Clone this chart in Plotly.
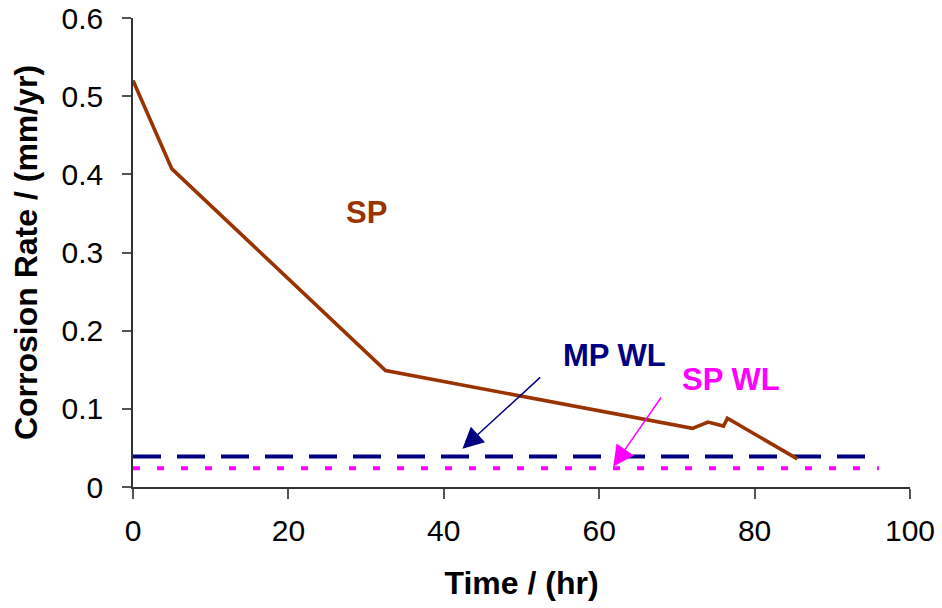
import plotly.graph_objects as go

# Data
sp_time = [0, 5, 32.5, 72, 74, 76, 76.5, 85.5]
sp_rate = [0.52, 0.407, 0.149, 0.075, 0.083, 0.078, 0.088, 0.036]
wl_time = [0, 96]
mp_wl_rate = [0.039, 0.039]
sp_wl_rate = [0.024, 0.024]

x_ticks = [0, 20, 40, 60, 80, 100]
y_ticks = [0, 0.1, 0.2, 0.3, 0.4, 0.5, 0.6]
y_tick_labels = ["0", "0.1", "0.2", "0.3", "0.4", "0.5", "0.6"]

BROWN = "#993300"
NAVY = "#000080"
MAGENTA = "#FF00FF"
FONT = "Liberation Sans, Arial, sans-serif"

fig = go.Figure()
fig.add_trace(go.Scatter(x=wl_time, y=mp_wl_rate, mode="lines",
                         line=dict(color=NAVY, width=4, dash="28px,16px"), name="MP WL"))
fig.add_trace(go.Scatter(x=wl_time, y=sp_wl_rate, mode="lines",
                         line=dict(color=MAGENTA, width=4, dash="7px,17px"), name="SP WL"))
fig.add_trace(go.Scatter(x=sp_time, y=sp_rate, mode="lines",
                         line=dict(color=BROWN, width=3.6), name="SP"))

fig.add_annotation(x=30.0, y=0.351, text="<b>SP</b>", showarrow=False,
                   font=dict(family=FONT, size=31, color=BROWN))
fig.add_annotation(x=62.0, y=0.168, text="<b>MP WL</b>", showarrow=False,
                   font=dict(family=FONT, size=31, color=NAVY))
fig.add_annotation(x=76.9, y=0.137, text="<b>SP WL</b>", showarrow=False,
                   font=dict(family=FONT, size=31, color=MAGENTA))

fig.add_annotation(x=42.4, y=0.049, ax=52.6, ay=0.142, axref="x", ayref="y",
                   xref="x", yref="y", text="", showarrow=True,
                   arrowhead=2, arrowsize=2.8, arrowwidth=1.5, arrowcolor=NAVY)
fig.add_annotation(x=61.8, y=0.026, ax=68.1, ay=0.1164, axref="x", ayref="y",
                   xref="x", yref="y", text="", showarrow=True,
                   arrowhead=2, arrowsize=2.8, arrowwidth=1.5, arrowcolor=MAGENTA)

fig.update_layout(
    width=942, height=608,
    margin=dict(l=133, r=32, t=18, b=121),
    plot_bgcolor="white", paper_bgcolor="white",
    showlegend=False,
    font=dict(family=FONT, size=30, color="black"),
)
fig.update_xaxes(range=[0, 100], tickvals=x_ticks, ticks="outside", ticklen=10,
                 tickwidth=1.5, tickcolor="#555555", showline=True, linecolor="#333333",
                 linewidth=1.5, showgrid=False, zeroline=False, automargin=False,
                 tickfont=dict(size=30), ticklabelstandoff=6, ticklabeloverflow="allow",
                 title=dict(text="<b>Time / (hr)</b>", font=dict(size=32), standoff=26))
fig.update_yaxes(range=[0, 0.6], tickvals=y_ticks, ticktext=y_tick_labels,
                 ticks="outside", ticklen=9, tickwidth=1.5, tickcolor="#555555",
                 showline=True, linecolor="#333333", linewidth=1.5,
                 showgrid=False, zeroline=False, automargin=False,
                 tickfont=dict(size=30), ticklabelstandoff=13, ticklabeloverflow="allow",
                 title=dict(text="<b>Corrosion Rate / (mm/yr)</b>", font=dict(size=32), standoff=14))

fig.write_html("out.html", config={"displayModeBar": False},
               post_script="document.body.style.margin='0px';")
